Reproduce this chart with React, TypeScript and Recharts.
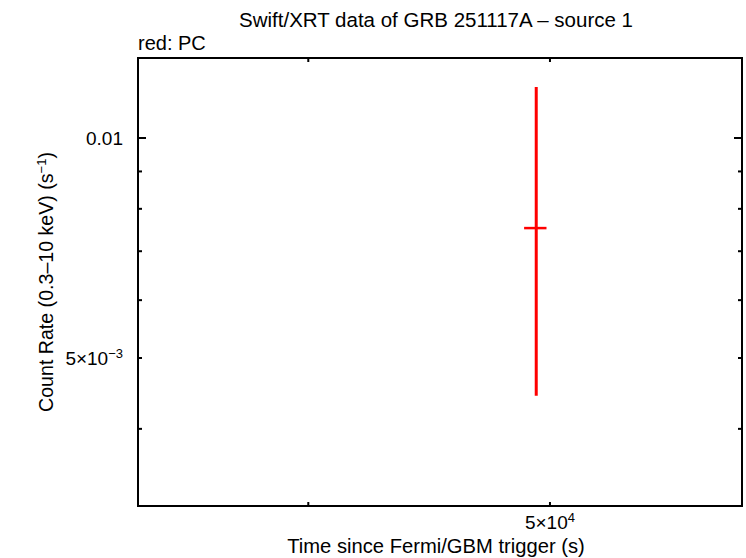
import React from 'react';
import { ScatterChart, Scatter, XAxis, YAxis, ErrorBar } from 'recharts';

// ---- data ----
const times = [49370];            // s since trigger
const timeErrLow = [550];
const timeErrHigh = [470];
const rates = [0.007529];         // count/s
const rateErrLow = [0.003089];
const rateErrHigh = [0.004215];

const xDomain = [34180, 59700];
const yDomain = [0.003137, 0.012866];
const xTicks = [40000, 50000];
const xTickLabels: Record<number, [string, string]> = { 50000: ['5×10', '4'] };
const yTicks = [0.004, 0.005, 0.006, 0.007, 0.008, 0.009, 0.01];
const yTickLabels: Record<number, [string, string]> = { 0.005: ['5×10', '−3'], 0.01: ['0.01', ''] };
const yMajor = [0.01];

const title = 'Swift/XRT data of GRB 251117A – source 1';
const subtitle = 'red: PC';
const xLabel = 'Time since Fermi/GBM trigger (s)';

const data = times.map((t, i) => ({
  x: t,
  y: rates[i],
  ex: [timeErrLow[i], timeErrHigh[i]],
  ey: [rateErrLow[i], rateErrHigh[i]],
}));

// ---- layout ----
const W = 746;
const H = 558;
const L = 138;
const R = 742;
const T = 58;
const B = 506;
const FONT = '"Liberation Sans", Arial, Helvetica, sans-serif';

const XTick = (props: any) => {
  const { x, payload } = props;
  const v = payload.value;
  const lbl = xTickLabels[v];
  return (
    <g>
      <line x1={x} x2={x} y1={B} y2={B - 4} stroke="#000" strokeWidth={2} />
      <line x1={x} x2={x} y1={T} y2={T + 4} stroke="#000" strokeWidth={2} />
      {lbl && (
        <text x={x} y={529} textAnchor="middle" fontFamily={FONT} fontSize={19} fill="#000">
          <tspan>{lbl[0]}</tspan>
          <tspan dy={-7} fontSize={13}>{lbl[1]}</tspan>
        </text>
      )}
    </g>
  );
};

const YTick = (props: any) => {
  const { y, payload } = props;
  const v = payload.value;
  const len = yMajor.includes(v) ? 8 : 4;
  const lbl = yTickLabels[v];
  return (
    <g>
      <line x1={L} x2={L + len} y1={y} y2={y} stroke="#000" strokeWidth={2} />
      <line x1={R} x2={R - len} y1={y} y2={y} stroke="#000" strokeWidth={2} />
      {lbl && (
        <text x={123} y={y + 7} textAnchor="end" fontFamily={FONT} fontSize={19} fill="#000">
          <tspan>{lbl[0]}</tspan>
          {lbl[1] && <tspan dy={-7} fontSize={13}>{lbl[1]}</tspan>}
        </text>
      )}
    </g>
  );
};

export default function App() {
  return (
    <div style={{ position: 'absolute', left: 0, top: 0, width: W, height: H, background: '#fff' }}>
      <ScatterChart
        width={W}
        height={H}
        margin={{ top: T, right: W - R, bottom: 0, left: 0 }}
        style={{ fontFamily: FONT }}
      >
        <XAxis
          xAxisId="b"
          dataKey="x"
          type="number"
          scale="log"
          domain={xDomain}
          allowDataOverflow
          ticks={xTicks}
          interval={0}
          height={H - B}
          tickLine={false}
          axisLine={false}
          tick={<XTick />}
        />
        <YAxis
          yAxisId="l"
          dataKey="y"
          type="number"
          scale="log"
          domain={yDomain}
          allowDataOverflow
          ticks={yTicks}
          interval={0}
          width={L}
          tickLine={false}
          axisLine={false}
          tick={<YTick />}
        />
        <rect x={L} y={T} width={R - L} height={B - T} fill="none" stroke="#000" strokeWidth={2} />
        <Scatter
          data={data}
          xAxisId="b"
          yAxisId="l"
          isAnimationActive={false}
          shape={() => <g />}
        >
          <ErrorBar dataKey="ey" direction="y" width={0} stroke="#ff0000" strokeWidth={3} isAnimationActive={false} />
          <ErrorBar dataKey="ex" direction="x" width={0} stroke="#ff0000" strokeWidth={2.5} isAnimationActive={false} />
        </Scatter>
        <text x={436} y={27} textAnchor="middle" fontFamily={FONT} fontSize={20.5} fill="#000">{title}</text>
        <text x={L} y={50} textAnchor="start" fontFamily={FONT} fontSize={20} fill="#000">{subtitle}</text>
        <text x={436} y={553} textAnchor="middle" fontFamily={FONT} fontSize={20.2} fill="#000">{xLabel}</text>
        <text
          x={0}
          y={0}
          transform="translate(53 282) rotate(-90)"
          textAnchor="middle"
          fontFamily={FONT}
          fontSize={19.6}
          fill="#000"
        >
          <tspan>Count Rate (0.3–10 keV) (s</tspan>
          <tspan dy={-7} fontSize={13}>−1</tspan>
          <tspan dy={7}>)</tspan>
        </text>
      </ScatterChart>
    </div>
  );
}
